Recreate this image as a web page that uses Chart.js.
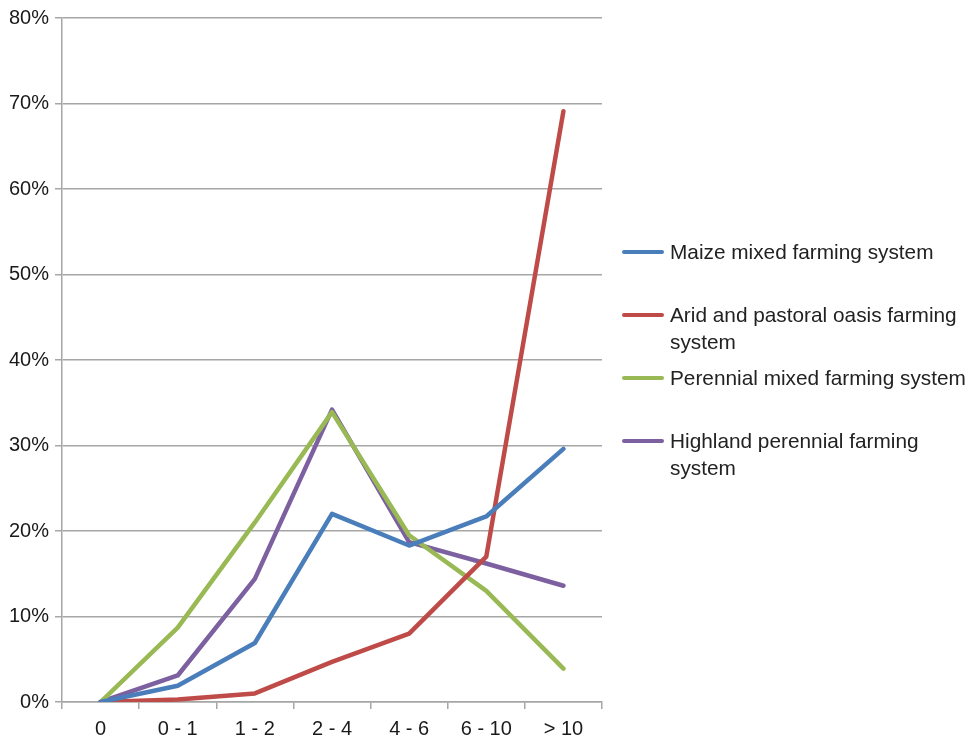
<!DOCTYPE html>
<html>
<head>
<meta charset="utf-8">
<script src="https://cdn.jsdelivr.net/npm/chart.js@4.4.1/dist/chart.umd.min.js"></script>
<style>
  body { margin: 0; background: #fff; }
  #wrap { position: relative; width: 972px; height: 738px; }
  #legend { position: absolute; left: 622px; top: 238px; font-family: "Liberation Sans", Arial, sans-serif; font-size: 20.8px; color: #222; }
  .item { display: flex; align-items: flex-start; height: 63px; }
  .swatch { width: 42px; height: 4px; border-radius: 2px; margin-top: 12px; margin-right: 6px; flex: none; }
  .txt { width: 302px; line-height: 27px; }
</style>
</head>
<body>
<div id="wrap">
  <canvas id="myChart" width="972" height="738"></canvas>
  <div id="legend"></div>
</div>
<script>
const ctx = document.getElementById('myChart');

// farm size classes (ha)
const categories = ["0", "0 - 1", "1 - 2", "2 - 4", "4 - 6", "6 - 10", "> 10"];

const maize = [0, 1.9, 6.9, 22.0, 18.3, 21.7, 29.6];
const arid = [0, 0.3, 1.0, 4.7, 8.0, 17.0, 69.1];
const perennial = [0, 8.7, 21.0, 33.9, 19.5, 13.0, 3.9];
const highland = [0, 3.1, 14.4, 34.2, 18.7, 16.2, 13.6];

const names = [
  "Maize mixed farming system",
  "Arid and pastoral oasis farming system",
  "Perennial mixed farming system",
  "Highland perennial farming system"
];
const colors = ["#4a7ebb", "#be4b48", "#98b954", "#7d60a0"];

const yTicks = [0, 10, 20, 30, 40, 50, 60, 70, 80];

const series = [maize, arid, perennial, highland];

new Chart(ctx, {
  type: 'line',
  data: {
    labels: categories,
    datasets: series.map((d, i) => ({
      label: names[i],
      data: d,
      borderColor: colors[i],
      backgroundColor: colors[i],
      borderWidth: 4.5,
      borderJoinStyle: 'round',
      borderCapStyle: 'round',
      pointRadius: 0,
      fill: false,
      tension: 0
    }))
  },
  options: {
    responsive: false,
    animation: false,
    layout: { padding: { top: 18, right: 370, left: 0, bottom: 0 } },
    plugins: {
      legend: { display: false },
      tooltip: { enabled: false }
    },
    scales: {
      x: {
        offset: true,
        grid: { offset: true, drawOnChartArea: false, drawTicks: true, tickLength: 7, color: '#a6a6a6', lineWidth: 1.5 },
        border: { color: '#a6a6a6', width: 1.5 },
        ticks: { color: '#1a1a1a', font: { family: 'Liberation Sans', size: 20 }, padding: 8, maxRotation: 0, autoSkip: false },
        afterFit: (scale) => { scale.height = 36; }
      },
      y: {
        min: 0,
        max: 80,
        afterBuildTicks: (scale) => { scale.ticks = yTicks.map(v => ({ value: v })); },
        grid: { color: '#a6a6a6', lineWidth: 1.5, tickLength: 7 },
        border: { color: '#a6a6a6', width: 1.5 },
        ticks: { color: '#1a1a1a', font: { family: 'Liberation Sans', size: 20 }, padding: 6, callback: (v) => v + '%' },
        afterFit: (scale) => { scale.width = 62; }
      }
    }
  }
});

// legend on the right
const leg = document.getElementById('legend');
names.forEach((n, i) => {
  const row = document.createElement('div');
  row.className = 'item';
  row.innerHTML = '<div class="swatch" style="background:' + colors[i] + '"></div><div class="txt">' + n + '</div>';
  leg.appendChild(row);
});
</script>
</body>
</html>
